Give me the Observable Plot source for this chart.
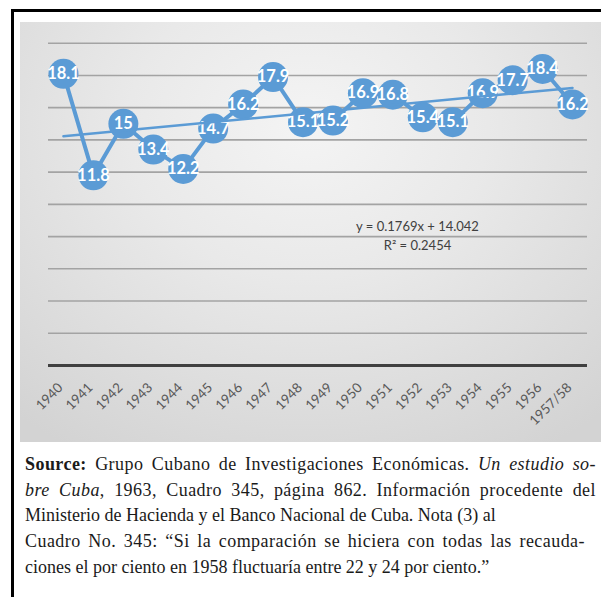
<!DOCTYPE html>
<html><head><meta charset="utf-8">
<script src="https://cdn.jsdelivr.net/npm/d3@7"></script>
<script src="https://cdn.jsdelivr.net/npm/@observablehq/plot@0.6"></script>
<style>
html,body{margin:0;padding:0;width:601px;height:597px;overflow:hidden;background:#fff;}
#frame{position:absolute;left:11px;top:9px;width:700px;height:700px;border-left:3px solid #000;border-top:3px solid #000;}
#chart{position:absolute;left:20px;top:22px;width:600px;height:420px;
  background:radial-gradient(ellipse 75% 90% at 48% 25%, #f4f4f4 0%, #e9e9e9 40%, #d3d3d3 100%);}
#chart svg{position:absolute;left:0;top:0;}
#caption{position:absolute;left:25px;top:452px;font-family:"Liberation Serif",serif;font-size:18px;line-height:25.7px;color:#1a1a1a;white-space:nowrap;}
#caption .j{text-align:justify;text-align-last:justify;letter-spacing:0.45px;}
</style>
</head><body>
<div id="frame"></div>
<div id="chart"></div>
<div id="caption">
<div class="j" style="width:571px"><b>Source:</b> Grupo Cubano de Investigaciones Económicas. <i>Un estudio so-</i></div>
<div class="j" style="width:571px"><i>bre Cuba</i>, 1963, Cuadro 345, página 862. Información procedente del</div>
<div>Ministerio de Hacienda y el Banco Nacional de Cuba. Nota (3) al</div>
<div class="j" style="width:560px">Cuadro No. 345: “Si la comparación se hiciera con todas las recauda-</div>
<div>ciones el por ciento en 1958 fluctuaría entre 22 y 24 por ciento.”</div>
</div>
<script>
const categories = ["1940","1941","1942","1943","1944","1945","1946","1947","1948","1949","1950","1951","1952","1953","1954","1955","1956","1957/58"];
const values = [18.1, 11.8, 15, 13.4, 12.2, 14.7, 16.2, 17.9, 15.1, 15.2, 16.9, 16.8, 15.4, 15.1, 16.9, 17.7, 18.4, 16.2];
const yTicks = [2, 4, 6, 8, 10, 12, 14, 16, 18, 20];
const trendSlope = 0.1769;
const trendIntercept = 14.042;
const trendR2 = 0.2454;

const data = categories.map((c, i) => ({cat: c, v: values[i]}));
const trendEnds = [0, categories.length - 1].map(i => ({cat: categories[i], v: trendSlope * (i + 1) + trendIntercept}));
const eqText = `y = ${trendSlope}x + ${trendIntercept}\nR² = ${trendR2}`;

const blue = "#5B9BD5";
const chart = Plot.plot({
  width: 581,
  height: 420,
  marginLeft: 28,
  marginRight: 14,
  marginTop: 20.7,
  marginBottom: 77,
  style: {fontFamily: "Lato, sans-serif", background: "transparent", color: "#595959"},
  x: {type: "point", domain: categories, padding: 0.5, round: false},
  y: {domain: [0, 20], axis: null},
  marks: [
    Plot.ruleY(yTicks, {stroke: "#a3a3a3", strokeWidth: 1.6}),
    Plot.ruleY([0], {stroke: "#404040", strokeWidth: 3}),
    Plot.axisX({tickRotate: -45, tickSize: 0, tickPadding: 20, dx: -3, fontSize: 13.5, label: null}),
    Plot.line(data, {x: "cat", y: "v", stroke: blue, strokeWidth: 4}),
    Plot.dot(data, {x: "cat", y: "v", r: 15, fill: blue, stroke: "none"}),
    Plot.text(data, {x: "cat", y: "v", text: d => String(d.v), fill: "white", fontWeight: "bold", fontSize: 16.5}),
    Plot.line(trendEnds, {x: "cat", y: "v", stroke: blue, strokeWidth: 2.5}),
    Plot.text([eqText], {frameAnchor: "top-left", text: d => d, dx: 369, dy: 191, textAnchor: "middle", lineAnchor: "middle", lineHeight: 1.5, fontSize: 13, fill: "#404040"})
  ]
});
document.getElementById("chart").appendChild(chart);
</script>
</body></html>
